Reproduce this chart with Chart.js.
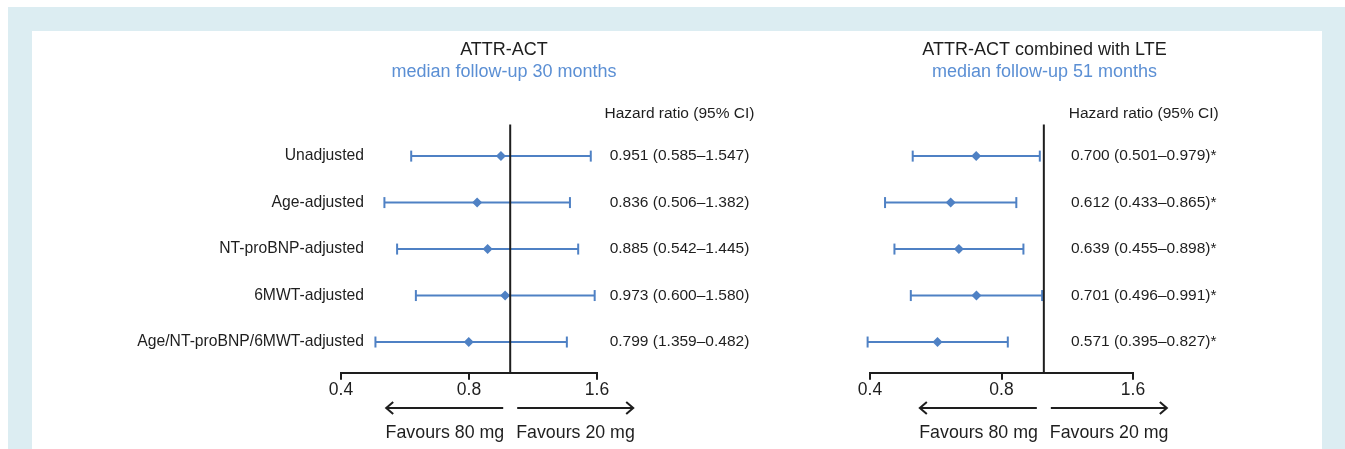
<!DOCTYPE html>
<html>
<head>
<meta charset="utf-8">
<script src="https://cdn.jsdelivr.net/npm/chart.js@4"></script>
<style>
  html, body { margin: 0; padding: 0; background: #fff; width: 1345px; height: 449px; overflow: hidden; }
  .frame { position: absolute; left: 8px; top: 7px; right: 0; bottom: 0; background: #dcedf2; }
  .panel { position: absolute; left: 32px; top: 31px; width: 1290px; bottom: 0; background: #fff; }
  canvas { position: absolute; left: 0; top: 0; }
</style>
</head>
<body>
<div class="frame"></div>
<div class="panel"></div>
<canvas id="leftChart" width="1345" height="449"></canvas>
<canvas id="rightChart" width="1345" height="449"></canvas>
<script>
/* Forest plots: hazard ratios, two follow-up periods */
const ROW_LABELS = [
  'Unadjusted',
  'Age-adjusted',
  'NT-proBNP-adjusted',
  '6MWT-adjusted',
  'Age/NT-proBNP/6MWT-adjusted',
];

// ATTR-ACT, median follow-up 30 months
const ACT_HR = [0.951, 0.836, 0.885, 0.973, 0.799];
const ACT_LO = [0.585, 0.506, 0.542, 0.600, 0.482];
const ACT_HI = [1.547, 1.382, 1.445, 1.580, 1.359];
const ACT_TEXT = [
  '0.951 (0.585\u20131.547)',
  '0.836 (0.506\u20131.382)',
  '0.885 (0.542\u20131.445)',
  '0.973 (0.600\u20131.580)',
  '0.799 (1.359\u20130.482)',
];

// ATTR-ACT combined with LTE, median follow-up 51 months
const LTE_HR = [0.700, 0.612, 0.639, 0.701, 0.571];
const LTE_LO = [0.501, 0.433, 0.455, 0.496, 0.395];
const LTE_HI = [0.979, 0.865, 0.898, 0.991, 0.827];
const LTE_TEXT = [
  '0.700 (0.501\u20130.979)*',
  '0.612 (0.433\u20130.865)*',
  '0.639 (0.455\u20130.898)*',
  '0.701 (0.496\u20130.991)*',
  '0.571 (0.395\u20130.827)*',
];

const X_TICKS = [0.4, 0.8, 1.6];
const X_TICK_LABELS = ['0.4', '0.8', '1.6'];
const REF_HR = 1;

const BLUE = '#4f81c4';
const INK = '#1e1e1e';
const FONT = "'Liberation Sans', Arial, Helvetica, sans-serif";

// titles, row labels, HR column and the favours arrows
const forestText = {
  id: 'forestText',
  afterDraw(chart, args, opts) {
    const { ctx, scales: { x, y }, chartArea } = chart;
    ctx.save();
    ctx.textBaseline = 'middle';

    ctx.textAlign = 'center';
    ctx.fillStyle = INK;
    ctx.font = `18px ${FONT}`;
    ctx.fillText(opts.title, opts.titleX, 50.5);
    ctx.fillStyle = '#5b8fd4';
    ctx.fillText(opts.subtitle, opts.titleX, 72.3);

    ctx.fillStyle = INK;
    ctx.font = `15.5px ${FONT}`;
    ctx.fillText('Hazard ratio (95% CI)', opts.hrX, y.getPixelForValue(-0.91));
    opts.values.forEach((t, i) => ctx.fillText(t, opts.hrX, y.getPixelForValue(i)));

    if (opts.labels) {
      ctx.textAlign = 'right';
      ctx.font = `15.7px ${FONT}`;
      opts.labels.forEach((t, i) => ctx.fillText(t, chartArea.left + 23, y.getPixelForValue(i)));
    }

    // arrows under the axis
    const rx = x.getPixelForValue(REF_HR);
    const ay = chartArea.bottom + 35.3;
    ctx.strokeStyle = INK;
    ctx.lineWidth = 2;
    ctx.beginPath();
    ctx.moveTo(rx - 7, ay); ctx.lineTo(rx - 124, ay);
    ctx.moveTo(rx - 117, ay - 6); ctx.lineTo(rx - 124, ay); ctx.lineTo(rx - 117, ay + 6);
    ctx.moveTo(rx + 7, ay); ctx.lineTo(rx + 123, ay);
    ctx.moveTo(rx + 116, ay - 6); ctx.lineTo(rx + 123, ay); ctx.lineTo(rx + 116, ay + 6);
    ctx.stroke();

    ctx.font = `17.8px ${FONT}`;
    ctx.textAlign = 'right';
    ctx.fillText('Favours 80 mg', rx - 6, chartArea.bottom + 60.6);
    ctx.textAlign = 'left';
    ctx.fillText('Favours 20 mg', rx + 6, chartArea.bottom + 60.6);
    ctx.restore();
  },
};

function buildDatasets(hr, lo, hi) {
  const datasets = [
    {
      // reference line at HR = 1
      showLine: true,
      data: [{ x: REF_HR, y: -0.68 }, { x: REF_HR, y: 4.66 }],
      borderColor: INK,
      borderWidth: 2,
      pointRadius: 0,
    },
    {
      data: hr.map((v, i) => ({ x: v, y: i })),
      pointStyle: 'rectRot',
      pointRadius: 5,
      pointBackgroundColor: BLUE,
      pointBorderWidth: 0,
    },
  ];
  lo.forEach((l, i) => {
    datasets.push({
      showLine: true,
      data: [{ x: l, y: i }, { x: hi[i], y: i }],
      borderColor: BLUE,
      borderWidth: 2,
      pointStyle: 'line',
      pointRotation: 90,
      pointRadius: 5.5,
      pointBorderColor: BLUE,
      pointBorderWidth: 2,
    });
  });
  return datasets.map(d => ({ ...d, clip: false }));
}

function renderForest(canvasId, hr, lo, hi, padLeft, padRight, text) {
  return new Chart(document.getElementById(canvasId), {
    type: 'scatter',
    data: { datasets: buildDatasets(hr, lo, hi) },
    plugins: [forestText],
    options: {
      responsive: false,
      animation: false,
      layout: { padding: { left: padLeft, right: padRight, top: 124.5, bottom: 48.3 } },
      plugins: {
        legend: { display: false },
        tooltip: { enabled: false },
        forestText: text,
      },
      scales: {
        x: {
          type: 'logarithmic',
          min: 0.4,
          max: 1.6,
          afterBuildTicks: axis => { axis.ticks = X_TICKS.map(v => ({ value: v })); },
          ticks: {
            color: INK,
            padding: 0,
            font: { family: FONT, size: 17.5 },
            callback: v => X_TICK_LABELS[X_TICKS.indexOf(v)] ?? '',
          },
          grid: { display: true, drawOnChartArea: false, drawTicks: true, tickLength: 7, color: INK, lineWidth: 2 },
          border: { display: true, color: INK, width: 2 },
        },
        y: {
          type: 'linear',
          display: false,
          reverse: true,
          min: -0.68,
          max: 4.66,
        },
      },
    },
  });
}

renderForest('leftChart', ACT_HR, ACT_LO, ACT_HI, 341, 1345 - 597, {
  title: 'ATTR-ACT',
  subtitle: 'median follow-up 30 months',
  titleX: 504,
  hrX: 679.5,
  labels: ROW_LABELS,
  values: ACT_TEXT,
});

renderForest('rightChart', LTE_HR, LTE_LO, LTE_HI, 870, 1345 - 1133, {
  title: 'ATTR-ACT combined with LTE',
  subtitle: 'median follow-up 51 months',
  titleX: 1044.5,
  hrX: 1143.7,
  labels: null,
  values: LTE_TEXT,
});
</script>
</body>
</html>
